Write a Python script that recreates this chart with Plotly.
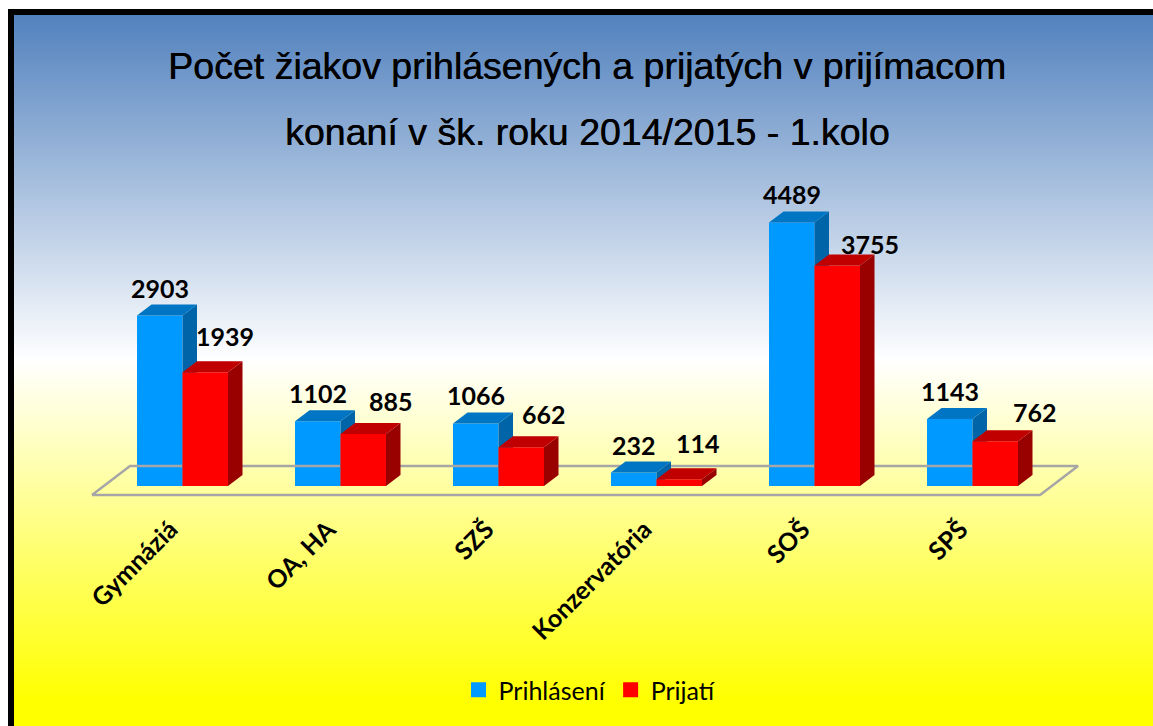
import base64, struct, zlib
import plotly.graph_objects as go

categories = ["Gymnáziá", "OA, HA", "SZŠ", "Konzervatória", "SOŠ", "SPŠ"]
prihlaseni = [2903, 1102, 1066, 232, 4489, 1143]
prijati = [1939, 885, 662, 114, 3755, 762]
title_lines = ["Počet žiakov prihlásených a prijatých v prijímacom",
               "konaní v šk. roku 2014/2015 - 1.kolo"]

W, H = 1153, 726
PITCH = 158.0          # px per category
PX_PER_UNIT = 0.0587   # px per value unit
BASE_Y = 486
ORIGIN_X = 182.5
AXIS_Y = 500
X_RANGE = [-ORIGIN_X / PITCH, (W - ORIGIN_X) / PITCH]
Y_RANGE = [(BASE_Y - AXIS_Y) / PX_PER_UNIT, BASE_Y / PX_PER_UNIT]
BAR_W = 45.5 / PITCH
DX = 14.5 / PITCH
DY = 11 / PX_PER_UNIT
FLOOR_FRONT = -9 / PX_PER_UNIT
FLOOR_BACK = 20 / PX_PER_UNIT


def py(y):
    """Pixel row to paper fraction (paper spans the plot area only)."""
    return (AXIS_Y - y) / AXIS_Y


def gradient_png():
    top, mid, bottom = (82, 130, 190), (255, 255, 255), (255, 255, 0)
    y0, y1, y2 = 15, 360, 700
    raw = b""
    for y in range(15, H):
        if y < y1:
            t = (y - y0) / (y1 - y0); a, b = top, mid
        else:
            t = min(1, (y - y1) / (y2 - y1)); a, b = mid, bottom
        px = bytes(round(a[i] + (b[i] - a[i]) * t) for i in range(3))
        raw += b"\0" + px * 2

    def chunk(tag, data):
        return struct.pack(">I", len(data)) + tag + data + struct.pack(">I", zlib.crc32(tag + data))
    png = (b"\x89PNG\r\n\x1a\n"
           + chunk(b"IHDR", struct.pack(">IIBBBBB", 2, H - 15, 8, 2, 0, 0, 0))
           + chunk(b"IDAT", zlib.compress(raw))
           + chunk(b"IEND", b""))
    return "data:image/png;base64," + base64.b64encode(png).decode()


def faces(values, offset):
    sx, sy, tx, ty = [], [], [], []
    for i, v in enumerate(values):
        l, r = i + offset, i + offset + BAR_W
        sx += [r, r + DX, r + DX, r, r, None]
        sy += [0, DY, v + DY, v, 0, None]
        tx += [l, r, r + DX, l + DX, l, None]
        ty += [v, v, v + DY, v + DY, v, None]
    return sx, sy, tx, ty


def series(values, offset, front, side, topc, xa, ya):
    sx, sy, tx, ty = faces(values, offset)
    return [
        go.Bar(x=list(range(len(values))), y=values, width=BAR_W, offset=offset,
               marker=dict(color=front, line=dict(width=0)), showlegend=False,
               xaxis=xa, yaxis=ya, hoverinfo="y"),
        go.Scatter(x=sx, y=sy, mode="lines", fill="toself", fillcolor=side,
                   line=dict(width=0), showlegend=False, hoverinfo="skip", xaxis=xa, yaxis=ya),
        go.Scatter(x=tx, y=ty, mode="lines", fill="toself", fillcolor=topc,
                   line=dict(width=0), showlegend=False, hoverinfo="skip", xaxis=xa, yaxis=ya),
    ]


fig = go.Figure()
# floor outline, behind the bars
fl = X_RANGE[0] + 92 / PITCH
fr = X_RANGE[0] + 1040 / PITCH
fig.add_trace(go.Scatter(
    x=[fl, fr, fr + 38 / PITCH, fl + 38 / PITCH, fl],
    y=[FLOOR_FRONT, FLOOR_FRONT, FLOOR_BACK, FLOOR_BACK, FLOOR_FRONT],
    mode="lines", line=dict(color="#a6a6a6", width=2.5), showlegend=False, hoverinfo="skip"))
for t in series(prihlaseni, -BAR_W, "#0099ff", "#0065a8", "#0075c4", "x", "y"):
    fig.add_trace(t)
for t in series(prijati, 0, "#ff0000", "#990000", "#c00000", "x2", "y2"):
    fig.add_trace(t)

# legend entries
for name, color in (("Prihlásení", "#0099ff"), ("Prijatí", "#ff0000")):
    fig.add_trace(go.Scatter(x=[None], y=[None], mode="markers", name=name,
                             marker=dict(symbol="square", size=15, color=color)))

label_font = dict(family="Lato", size=25, color="black", weight=700)
annotations = []
blue_dx = [0, 0, 0, 0, 0, 0]
blue_dy = [28, 28, 28, 27, 29, 28]
red_dx = [20, 28, 23, 19, 33, 40]
red_dy = [36, 33, 33, 36, 22, 29]
for i, (b, r) in enumerate(zip(prihlaseni, prijati)):
    annotations.append(dict(x=i - BAR_W / 2, y=b, text=str(b), xref="x", yref="y", showarrow=False,
                            xshift=blue_dx[i], yshift=blue_dy[i], font=label_font))
    annotations.append(dict(x=i + BAR_W / 2, y=r, text=str(r), xref="x", yref="y", showarrow=False,
                            xshift=red_dx[i], yshift=red_dy[i], font=label_font))
title_font = dict(family="Liberation Sans", size=37.5, color="black", shadow="0.5px 0 0 black")
annotations.append(dict(x=587 / W, y=py(132), xref="paper", yref="paper", showarrow=False,
                        xanchor="center", yanchor="middle", text=title_lines[1], font=title_font))

axis_common = dict(range=X_RANGE, showgrid=False, zeroline=False, showline=False)
fig.update_layout(
    width=W, height=H, autosize=False,
    margin=dict(l=0, r=0, t=0, b=H - AXIS_Y, pad=0),
    paper_bgcolor="white", plot_bgcolor="rgba(0,0,0,0)",
    barmode="overlay",
    title=dict(text=title_lines[0], x=587 / W, xanchor="center", xref="container",
               y=1 - 66 / H, yanchor="middle", yref="container", font=title_font),
    xaxis=dict(**axis_common, tickmode="array", tickvals=list(range(6)), ticktext=categories,
               tickangle=-45, ticks="", ticklabelshift=-12, ticklabelstandoff=9,
               tickfont=dict(family="Lato", size=25, color="black", weight=700)),
    yaxis=dict(range=Y_RANGE, visible=False),
    xaxis2=dict(**axis_common, overlaying="x", visible=False),
    yaxis2=dict(range=Y_RANGE, overlaying="y", visible=False),
    legend=dict(orientation="h", x=590 / W, xanchor="center", y=py(690), yanchor="middle",
                font=dict(family="Lato", size=25, color="black"), bgcolor="rgba(0,0,0,0)",
                itemclick=False, itemdoubleclick=False),
    annotations=annotations,
    images=[dict(source=gradient_png(), xref="paper", yref="paper", x=14 / W, y=py(15),
                 sizex=(W - 14) / W, sizey=(H - 15) / AXIS_Y, sizing="stretch",
                 xanchor="left", yanchor="top", layer="below")],
    shapes=[
        dict(type="rect", xref="paper", yref="paper", x0=8 / W, x1=1, y0=py(15), y1=py(9),
             fillcolor="black", line=dict(width=0), layer="above"),
        dict(type="rect", xref="paper", yref="paper", x0=8 / W, x1=14 / W, y0=py(H), y1=py(9),
             fillcolor="black", line=dict(width=0), layer="above"),
    ],
)
fig.write_html("out.html", config=dict(displayModeBar=False),
               post_script="document.body.style.margin='0';")
